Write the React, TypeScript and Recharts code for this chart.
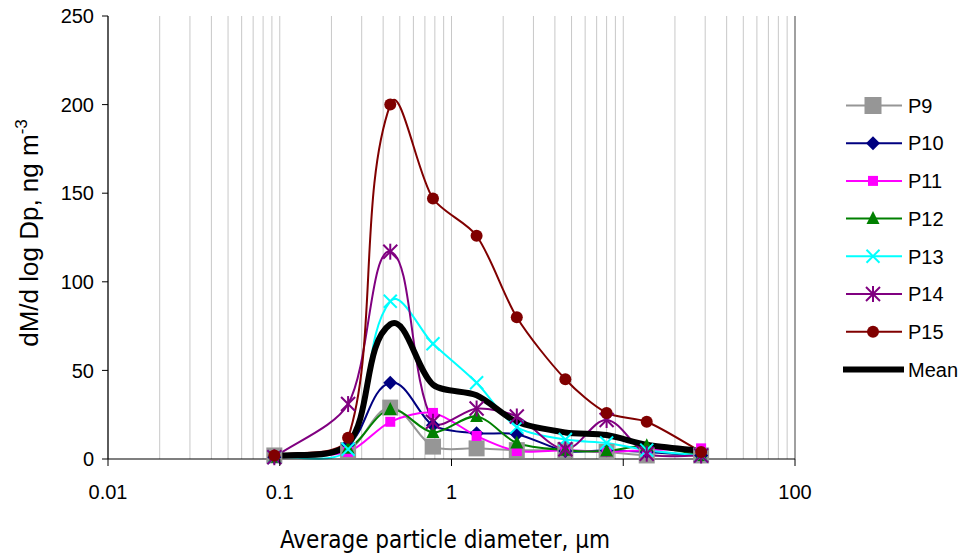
import React from 'react';
import { LineChart, Line, XAxis, YAxis, CartesianGrid, Legend, ReferenceLine } from 'recharts';

// ---- data ----
const diameters = [0.093, 0.25, 0.44, 0.78, 1.4, 2.4, 4.6, 8.0, 13.7, 28.4];
const p9 = [2, 5, 29, 7, 6, 5, 5, 4, 2, 2];
const p10 = [1, 8, 43, 19, 14.5, 14, 4.5, 5, 4, 2];
const p11 = [1, 4, 21, 26, 13, 4.5, 5, 4, 5, 6];
const p12 = [1, 6, 28, 15, 24, 9, 5, 4.5, 7.5, 2];
const p13 = [1, 5.5, 89, 65, 43, 18, 11, 9, 5, 2];
const p14 = [1, 31, 117, 21, 28.5, 24, 5.5, 22, 3, 2];
const p15 = [2, 12, 200, 147, 126, 80, 45, 26, 21, 4];
const meanValues = [1.5, 8.5, 76, 42, 36, 21, 15, 13.5, 8, 4.5];

const seriesNames = ['P9', 'P10', 'P11', 'P12', 'P13', 'P14', 'P15', 'Mean'];
const xTicks = [
  0.01, 0.02, 0.03, 0.04, 0.05, 0.06, 0.07, 0.08, 0.09,
  0.1, 0.2, 0.3, 0.4, 0.5, 0.6, 0.7, 0.8, 0.9,
  1, 2, 3, 4, 5, 6, 7, 8, 9,
  10, 20, 30, 40, 50, 60, 70, 80, 90,
  100,
];
const xLabels = [0.01, 0.1, 1, 10, 100];
const yTicks = [0, 50, 100, 150, 200, 250];

const data = diameters.map((d, i) => ({
  d,
  P9: p9[i],
  P10: p10[i],
  P11: p11[i],
  P12: p12[i],
  P13: p13[i],
  P14: p14[i],
  P15: p15[i],
  Mean: meanValues[i],
}));

// ---- styles ----
const FONT = '"Liberation Sans", Arial, sans-serif';
const styles: Record<string, { color: string; shape: string; size: number; width: number }> = {
  P9: { color: '#969696', shape: 'square', size: 16, width: 2 },
  P10: { color: '#000080', shape: 'diamond', size: 14, width: 2 },
  P11: { color: '#ff00ff', shape: 'square', size: 10, width: 2 },
  P12: { color: '#008000', shape: 'triangle', size: 13, width: 2 },
  P13: { color: '#00ffff', shape: 'x', size: 13, width: 2 },
  P14: { color: '#800080', shape: 'star', size: 14, width: 2 },
  P15: { color: '#800000', shape: 'circle', size: 12, width: 2 },
  Mean: { color: '#000000', shape: 'none', size: 0, width: 6 },
};

// Excel-like smoothed line
function dist(a: number[], b: number[]) {
  return Math.hypot(b[0] - a[0], b[1] - a[1]);
}
function tangent(pa: number[], pb: number[], ratio: number, cap: number) {
  let vx = (pb[0] - pa[0]) * ratio;
  let vy = (pb[1] - pa[1]) * ratio;
  const len = Math.hypot(vx, vy);
  if (len > cap && len > 0) {
    vx = (vx / len) * cap;
    vy = (vy / len) * cap;
  }
  return [vx, vy];
}
function excelSmooth(context: any) {
  let pts: number[][] = [];
  return {
    areaStart() {},
    areaEnd() {},
    lineStart() {
      pts = [];
    },
    point(x: number, y: number) {
      pts.push([+x, +y]);
    },
    lineEnd() {
      const n = pts.length;
      if (!n) return;
      context.moveTo(pts[0][0], pts[0][1]);
      const k = 0.5;
      const c = 0.28;
      for (let i = 0; i < n - 1; i++) {
        const p1 = pts[i];
        const p2 = pts[i + 1];
        const p0 = i > 0 ? pts[i - 1] : p1;
        const p3 = i + 2 < n ? pts[i + 2] : p2;
        const d01 = dist(p0, p1);
        const d12 = dist(p1, p2);
        const d23 = dist(p2, p3);
        const r1 = (i > 0 ? d12 / (d01 + d12 || 1) : 0.6) * k;
        const r2 = (i + 2 < n ? d12 / (d12 + d23 || 1) : 0.6) * k;
        const t1 = tangent(p0, p2, r1, c * d12);
        const t2 = tangent(p1, p3, r2, c * d12);
        context.bezierCurveTo(p1[0] + t1[0], p1[1] + t1[1], p2[0] - t2[0], p2[1] - t2[1], p2[0], p2[1]);
      }
    },
  };
}

function Marker({ cx, cy, shape, size, color }: any) {
  const h = size / 2;
  switch (shape) {
    case 'square':
      return <rect x={cx - h} y={cy - h} width={size} height={size} fill={color} />;
    case 'diamond':
      return <polygon points={`${cx},${cy - h} ${cx + h},${cy} ${cx},${cy + h} ${cx - h},${cy}`} fill={color} />;
    case 'triangle':
      return <polygon points={`${cx},${cy - h - 1} ${cx + h},${cy + h - 1} ${cx - h},${cy + h - 1}`} fill={color} />;
    case 'x':
      return (
        <g stroke={color} strokeWidth={2}>
          <line x1={cx - h} y1={cy - h} x2={cx + h} y2={cy + h} />
          <line x1={cx - h} y1={cy + h} x2={cx + h} y2={cy - h} />
        </g>
      );
    case 'star':
      return (
        <g stroke={color} strokeWidth={2}>
          <line x1={cx - h} y1={cy - h} x2={cx + h} y2={cy + h} />
          <line x1={cx - h} y1={cy + h} x2={cx + h} y2={cy - h} />
          <line x1={cx} y1={cy - h - 1} x2={cx} y2={cy + h + 1} />
        </g>
      );
    case 'circle':
      return <circle cx={cx} cy={cy} r={h} fill={color} />;
    default:
      return null;
  }
}

const XTick = (props: any) => {
  const { x, y, payload } = props;
  if (!xLabels.includes(payload.value)) return <g />;
  return (
    <g>
      <line x1={x} x2={x} y1={y - 7} y2={y} stroke="#000" strokeWidth={1} />
      <text x={x} y={y + 33} textAnchor="middle" fontFamily={FONT} fontSize={20} fill="#000">
        {String(payload.value)}
      </text>
    </g>
  );
};

const renderLegend = () => (
  <svg width={125} height={300} style={{ display: 'block' }}>
    {seriesNames.map((name, i) => {
      const s = styles[name];
      const y = 17.5 + i * 37.7;
      const isMean = name === 'Mean';
      return (
        <g key={name}>
          <line x1={isMean ? 5 : 8} x2={isMean ? 66 : 64} y1={y} y2={y} stroke={s.color} strokeWidth={isMean ? 6 : 2} />
          <Marker cx={35} cy={y} shape={s.shape} size={s.shape === 'square' && name === 'P9' ? 17 : s.size} color={s.color} />
          <text x={70} y={y} dy="0.36em" fontFamily={FONT} fontSize={20} fill="#000">
            {name}
          </text>
        </g>
      );
    })}
  </svg>
);

export default function App() {
  return (
    <div style={{ position: 'absolute', left: 0, top: 0, width: 963, height: 560, background: '#fff' }}>
      <LineChart width={963} height={560} data={data} margin={{ top: 16, right: 43, bottom: 0, left: 0 }}>
        <CartesianGrid horizontal={false} vertical stroke="#c8c8c8" strokeWidth={1} />
        <ReferenceLine x={100} stroke="#8a8a8a" strokeWidth={1.5} />
        <XAxis
          dataKey="d"
          type="number"
          scale="log"
          domain={[0.01, 100]}
          ticks={xTicks}
          interval={0}
          tick={<XTick />}
          tickLine={false}
          tickSize={7}
          tickMargin={0}
          height={101}
          axisLine={{ stroke: '#000', strokeWidth: 1.2 }}
          allowDataOverflow
          label={{
            content: () => (
              <text x={445} y={548} textAnchor="middle" fontFamily='"DejaVu Sans Condensed", "DejaVu Sans", sans-serif' fontSize={24} fill="#000">
                Average particle diameter, µm
              </text>
            ),
          }}
        />
        <YAxis
          type="number"
          domain={[0, 250]}
          ticks={yTicks}
          interval={0}
          width={108}
          tickSize={6}
          tickMargin={8}
          tick={{ fontFamily: FONT, fontSize: 20, fill: '#000' }}
          tickLine={{ stroke: '#000' }}
          axisLine={{ stroke: '#000', strokeWidth: 1.2 }}
          label={{
            content: () => (
              <text
                x={38}
                y={233}
                transform="rotate(-90 38 233)"
                textAnchor="middle"
                fontFamily={FONT}
                fontSize={26}
                fill="#000"
              >
                dM/d log Dp, ng m
                <tspan dy={-11} fontSize={17}>
                  -3
                </tspan>
              </text>
            ),
          }}
        />
        <Legend
          layout="vertical"
          align="right"
          verticalAlign="top"
          content={renderLegend}
          wrapperStyle={{ left: 838, top: 88, right: 'auto', width: 125, height: 300 }}
        />
        {seriesNames.map((name) => {
          const s = styles[name];
          return (
            <Line
              key={name}
              dataKey={name}
              type={excelSmooth as any}
              stroke={s.color}
              strokeWidth={s.width}
              isAnimationActive={false}
              activeDot={false}
              dot={
                s.shape === 'none'
                  ? false
                  : (p: any) => <Marker key={`${name}-${p.index}`} cx={p.cx} cy={p.cy} shape={s.shape} size={s.size} color={s.color} />
              }
            />
          );
        })}
      </LineChart>
    </div>
  );
}
